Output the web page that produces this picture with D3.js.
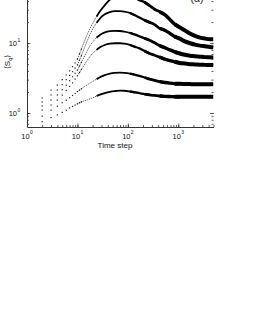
<!DOCTYPE html>
<html><head><meta charset="utf-8">
<script src="https://cdn.jsdelivr.net/npm/d3@7"></script>
<style>html,body{margin:0;padding:0;background:#fff;overflow:hidden}svg{display:block}</style>
</head><body><svg id="c" width="255" height="330"></svg>
<script>
const timeSteps = [2,3,4,5,6,7,8,9,10,11,12,14,16,18,20,24,28,35,44,55,70,85,110,135,170,215,270,340,430,540,680,850,1070,1350,1700,2150,2700,3400,4300,5000];

// <S_q> for each curve (bottom to top)
const series1 = [0.75,0.86,0.94,1.02,1.09,1.18,1.24,1.30,1.35,1.40,1.44,1.50,1.55,1.60,1.65,1.75,1.83,1.93,2.01,2.06,2.09,2.08,2.03,1.98,1.92,1.86,1.81,1.78,1.75,1.73,1.72,1.71,1.71,1.71,1.71,1.71,1.71,1.71,1.71,1.71];
const series2 = [0.90,1.10,1.25,1.40,1.52,1.65,1.78,1.90,2.02,2.13,2.22,2.40,2.55,2.70,2.82,3.05,3.25,3.48,3.65,3.74,3.77,3.75,3.67,3.55,3.40,3.22,3.05,2.92,2.81,2.73,2.67,2.63,2.61,2.60,2.59,2.58,2.58,2.57,2.57,2.57];
const series3 = [1.10,1.30,1.53,1.80,2.10,2.40,2.70,3.05,3.40,3.80,4.20,5.00,5.80,6.50,7.10,8.00,8.70,9.40,9.80,9.95,9.95,9.80,9.40,8.90,8.40,7.70,7.10,6.70,6.30,5.90,5.60,5.40,5.20,5.10,5.00,4.95,4.90,4.88,4.85,4.85];
const series4 = [1.26,1.53,1.81,2.15,2.50,2.90,3.30,3.70,4.10,4.70,5.30,6.60,8.00,9.30,10.3,12.0,13.1,14.2,14.8,15.0,14.9,14.6,14.0,13.3,12.5,11.7,11.0,10.1,9.20,8.60,8.00,7.50,7.10,6.80,6.60,6.50,6.40,6.30,6.25,6.20];
const series5 = [1.44,1.81,2.13,2.55,3.00,3.45,3.90,4.40,4.85,5.70,6.60,8.80,11.2,13.6,15.8,19.5,22.5,25.8,27.8,28.6,28.7,28.3,27.0,25.2,23.2,21.3,19.8,18.4,16.2,15.3,13.8,12.4,11.6,10.6,10.0,9.50,9.20,9.00,8.80,8.70];
const series6 = [1.64,2.13,2.51,3.00,3.50,4.00,4.60,5.20,5.90,7.00,8.20,11.0,13.8,16.5,19.0,24.0,28.5,35.0,42.0,48.0,52.0,53.0,50.0,45.5,41.0,38.5,34.5,30.5,28.0,25.5,21.8,18.6,16.8,15.2,13.7,12.7,12.0,11.6,11.4,11.4];
const allSeries = [series1, series2, series3, series4, series5, series6];

// Axis tick labels
const xMajorTicks = [1, 10, 100, 1000];
const xTickExponents = ["0", "1", "2", "3"];
const yMajorTicks = [1, 10];
const yTickExponents = ["0", "1"];
const xLabel = "Time step";
const panelLabel = "(a)";

const svg = d3.select("#c");
const font = "'Liberation Sans', Arial, Helvetica, sans-serif";
const L = 27, R = 213.5, B = 127, T = -20;
const x = d3.scaleLog().domain([1, 5000]).range([L, R]);
const y = d3.scaleLog().domain([0.63, 80]).range([B, T]);

svg.append("defs").append("clipPath").attr("id", "clip")
  .append("rect").attr("x", L).attr("y", T).attr("width", R - L).attr("height", B - T);

// Axes (ticks inward)
const axCol = "#333";
const gB = svg.append("g").attr("transform", `translate(0,${B})`)
  .call(d3.axisBottom(x).tickValues(x.ticks()).tickSize(-2).tickSizeOuter(0).tickFormat(""));
const gBm = svg.append("g").attr("transform", `translate(0,${B})`)
  .call(d3.axisBottom(x).tickValues(xMajorTicks).tickSize(-3.5).tickSizeOuter(0).tickFormat(""));
const gL = svg.append("g").attr("transform", `translate(${L},0)`)
  .call(d3.axisLeft(y).tickValues(y.ticks()).tickSize(-2).tickSizeOuter(0).tickFormat(""));
const gLm = svg.append("g").attr("transform", `translate(${L},0)`)
  .call(d3.axisLeft(y).tickValues(yMajorTicks).tickSize(-3.5).tickSizeOuter(0).tickFormat(""));
const gR = svg.append("g").attr("transform", `translate(${R},0)`)
  .call(d3.axisRight(y).tickValues(y.ticks()).tickSize(-2).tickSizeOuter(0).tickFormat(""));
const gRm = svg.append("g").attr("transform", `translate(${R},0)`)
  .call(d3.axisRight(y).tickValues(yMajorTicks).tickSize(-3.5).tickSizeOuter(0).tickFormat(""));
[gBm, gLm, gR, gRm].forEach(g => g.select(".domain").remove());
[gB, gBm, gL, gLm, gR, gRm].forEach(g => {
  g.selectAll("line").attr("stroke", axCol).attr("stroke-width", 0.8);
  g.selectAll(".domain").attr("stroke", axCol).attr("stroke-width", 1);
});

// Tick labels
xMajorTicks.forEach((v, i) => {
  svg.append("text").attr("x", x(v) - 1.5).attr("y", 138.5).attr("text-anchor", "middle")
    .attr("font-family", font).attr("font-size", 7.5).attr("fill", "#111").text("10");
  svg.append("text").attr("x", x(v) + 3).attr("y", 134).attr("font-family", font)
    .attr("font-size", 5).attr("fill", "#111").text(xTickExponents[i]);
});
yMajorTicks.forEach((v, i) => {
  svg.append("text").attr("x", 17).attr("y", y(v) + 3).attr("text-anchor", "end")
    .attr("font-family", font).attr("font-size", 7.5).attr("fill", "#111").text("10");
  svg.append("text").attr("x", 17.5).attr("y", y(v) - 1).attr("font-family", font)
    .attr("font-size", 5).attr("fill", "#111").text(yTickExponents[i]);
});

// Axis titles
svg.append("text").attr("x", 115).attr("y", 147.5).attr("text-anchor", "middle")
  .attr("font-family", font).attr("font-size", 8).attr("fill", "#111").text(xLabel);
const yl = svg.append("text").attr("transform", "translate(9.5,62) rotate(-90)")
  .attr("text-anchor", "middle").attr("font-family", font).attr("font-size", 8).attr("fill", "#111");
yl.append("tspan").text("\u27E8S");
yl.append("tspan").attr("font-size", 5.5).attr("dy", 2).text("q");
yl.append("tspan").attr("dy", -2).text("\u27E9");

svg.append("text").attr("x", 197).attr("y", 1.5).attr("text-anchor", "middle")
  .attr("font-family", font).attr("font-size", 10.5).attr("fill", "#111").text(panelLabel);

// Data
const plot = svg.append("g").attr("clip-path", "url(#clip)");
const line = d3.line().x(d => x(d.t)).y(d => y(d.v)).curve(d3.curveMonotoneX);
const segs = [
  {a: 10, b: 35, w: 1, c: "#555", dash: "1.2,0.9"},
  {a: 24, b: 135, w: 1.8, c: "#000"},
  {a: 110, b: 270, w: 2.3, c: "#000"},
  {a: 215, b: 540, w: 2.8, c: "#000"},
  {a: 430, b: 1070, w: 3.4, c: "#000"},
  {a: 850, b: 5000, w: 4, c: "#000"}
];
allSeries.forEach(vals => {
  const pts = timeSteps.map((t, i) => ({t, v: vals[i]}));
  segs.forEach(s => {
    plot.append("path").datum(pts.filter(p => p.t >= s.a && p.t <= s.b))
      .attr("d", line).attr("fill", "none").attr("stroke", s.c)
      .attr("stroke-width", s.w).attr("stroke-linejoin", "round")
      .attr("stroke-dasharray", s.dash || null);
  });
  plot.selectAll(null).data(pts.filter(p => p.t <= 12)).enter().append("rect")
    .attr("x", d => x(d.t) - 0.6).attr("y", d => y(d.v) - 0.6)
    .attr("width", 1.2).attr("height", 1.2).attr("fill", "#222");
});
</script></body></html>
